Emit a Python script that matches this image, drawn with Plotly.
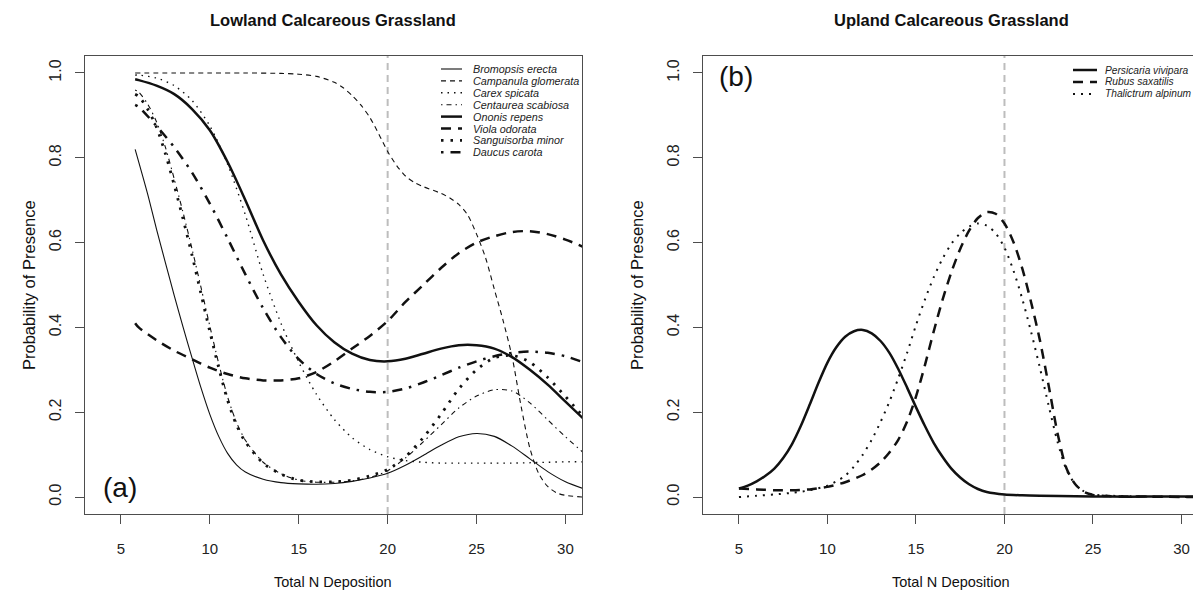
import plotly.graph_objects as go

W, H = 1193, 596
FONT = "Liberation Sans, Arial, Helvetica, sans-serif"
INK = "#111111"
AXIS = "#4d4d4d"

# ---- panel (a): lowland calcareous grassland ----
bromopsis_n = [5.8, 6.5, 7, 7.5, 8, 8.5, 9, 9.5, 10, 10.5, 11, 11.5, 12, 13, 14, 15, 16,
               17, 18, 19, 20, 21, 22, 23, 24, 25, 26, 27, 28, 29, 30, 31]
bromopsis_p = [0.82, 0.715, 0.632, 0.553, 0.475, 0.40, 0.328, 0.258, 0.195, 0.143, 0.103,
               0.076, 0.059, 0.042, 0.034, 0.031, 0.03, 0.032, 0.037, 0.045, 0.056, 0.075,
               0.098, 0.122, 0.142, 0.15, 0.143, 0.12, 0.09, 0.06, 0.036, 0.02]

campanula_n = [5.8, 8, 10, 12, 14, 15, 16, 17, 17.5, 18, 18.5, 19, 19.5, 20, 20.5, 21, 21.5,
               22, 23, 23.5, 24, 24.5, 25, 25.5, 26, 26.5, 27, 27.5, 28, 28.5, 29, 29.5, 30, 31]
campanula_p = [1.0, 1.0, 1.0, 1.0, 0.999, 0.997, 0.992, 0.978, 0.965, 0.947, 0.924, 0.895,
               0.856, 0.815, 0.782, 0.757, 0.742, 0.732, 0.716, 0.705, 0.69, 0.665, 0.62,
               0.565, 0.49, 0.415, 0.33, 0.215, 0.115, 0.055, 0.025, 0.01, 0.004, 0.0]

carex_n = [5.8, 6, 7, 8, 9, 10, 11, 12, 13, 14, 15, 16, 17, 18, 19, 20, 21, 22, 23, 24, 25,
           26, 27, 28, 29, 30, 31]
carex_p = [0.995, 0.995, 0.988, 0.97, 0.935, 0.875, 0.785, 0.665, 0.525, 0.41, 0.318, 0.242,
           0.183, 0.14, 0.112, 0.095, 0.086, 0.082, 0.08, 0.08, 0.08, 0.08, 0.08, 0.081,
           0.082, 0.083, 0.083]

centaurea_n = [5.8, 6, 6.5, 7, 7.5, 8, 8.5, 9, 9.5, 10, 10.5, 11, 11.5, 12, 13, 14, 15, 16,
               17, 18, 19, 20, 21, 22, 23, 24, 25, 26, 27, 28, 29, 30, 31]
centaurea_p = [0.96, 0.955, 0.927, 0.885, 0.825, 0.75, 0.67, 0.585, 0.495, 0.403, 0.315,
               0.236, 0.176, 0.134, 0.082, 0.055, 0.04, 0.035, 0.035, 0.038, 0.046, 0.062,
               0.092, 0.13, 0.17, 0.21, 0.238, 0.253, 0.25, 0.222, 0.182, 0.142, 0.105]

ononis_n = [5.8, 6, 7, 8, 9, 10, 11, 12, 13, 14, 15, 16, 17, 18, 19, 20, 21, 22, 23, 24, 25,
            26, 27, 28, 29, 30, 31]
ononis_p = [0.985, 0.983, 0.97, 0.95, 0.915, 0.865, 0.79, 0.70, 0.605, 0.525, 0.46, 0.405,
            0.365, 0.338, 0.323, 0.32, 0.326, 0.338, 0.35, 0.358, 0.358, 0.35, 0.33, 0.30,
            0.265, 0.225, 0.185]

viola_n = [5.8, 6, 7, 8, 9, 10, 11, 12, 13, 14, 15, 16, 17, 18, 19, 20, 21, 22, 23, 24, 25,
           26, 27, 28, 29, 30, 31]
viola_p = [0.41, 0.40, 0.37, 0.345, 0.325, 0.305, 0.29, 0.28, 0.275, 0.275, 0.28, 0.295,
           0.32, 0.35, 0.38, 0.415, 0.46, 0.50, 0.54, 0.575, 0.60, 0.615, 0.625, 0.627, 0.62,
           0.607, 0.59]

sanguisorba_n = [5.8, 6, 6.5, 7, 7.5, 8, 8.5, 9, 9.5, 10, 10.5, 11, 11.5, 12, 13, 14, 15, 16,
                 17, 18, 19, 20, 21, 22, 23, 24, 25, 26, 27, 28, 29, 30, 31]
sanguisorba_p = [0.95, 0.945, 0.915, 0.872, 0.81, 0.735, 0.655, 0.57, 0.48, 0.39, 0.305,
                 0.228, 0.17, 0.13, 0.08, 0.054, 0.04, 0.036, 0.036, 0.04, 0.05, 0.065, 0.095,
                 0.14, 0.195, 0.255, 0.30, 0.328, 0.334, 0.318, 0.282, 0.237, 0.19]

daucus_n = [5.8, 6, 7, 8, 9, 10, 11, 12, 13, 14, 15, 16, 17, 18, 19, 20, 21, 22, 23, 24, 25,
            26, 27, 28, 29, 30, 31]
daucus_p = [0.925, 0.92, 0.875, 0.825, 0.765, 0.692, 0.61, 0.525, 0.445, 0.377, 0.325, 0.29,
            0.268, 0.255, 0.248, 0.248, 0.256, 0.27, 0.287, 0.305, 0.32, 0.332, 0.34, 0.343,
            0.34, 0.332, 0.318]

# ---- panel (b): upland calcareous grassland ----
persicaria_n = [5, 5.5, 6, 6.5, 7, 7.5, 8, 8.5, 9, 9.5, 10, 10.5, 11, 11.5, 12, 12.5, 13,
                13.5, 14, 14.5, 15, 15.5, 16, 16.5, 17, 17.5, 18, 18.5, 19, 20, 21, 22, 24,
                26, 28, 31]
persicaria_p = [0.02, 0.027, 0.037, 0.05, 0.067, 0.092, 0.125, 0.168, 0.218, 0.27, 0.317,
                0.353, 0.378, 0.391, 0.394, 0.386, 0.368, 0.34, 0.302, 0.258, 0.212, 0.168,
                0.128, 0.095, 0.067, 0.046, 0.03, 0.019, 0.012, 0.006, 0.004, 0.003, 0.002,
                0.001, 0.001, 0.001]

rubus_n = [5, 6, 7, 8, 9, 10, 11, 12, 12.5, 13, 13.5, 14, 14.5, 15, 15.5, 16, 16.5, 17, 17.5,
           18, 18.5, 19, 19.5, 20, 20.5, 21, 21.5, 22, 22.5, 23, 23.5, 24, 24.5, 25, 26, 28, 31]
rubus_p = [0.02, 0.018, 0.016, 0.016, 0.018, 0.024, 0.035, 0.052, 0.065, 0.082, 0.105, 0.135,
           0.178, 0.237, 0.31, 0.39, 0.465, 0.53, 0.585, 0.628, 0.658, 0.672, 0.668, 0.645,
           0.602, 0.54, 0.46, 0.37, 0.262, 0.15, 0.068, 0.03, 0.012, 0.005, 0.002, 0.001, 0.0]

thalictrum_n = [5, 6, 7, 8, 9, 10, 10.5, 11, 11.5, 12, 12.5, 13, 13.5, 14, 14.5, 15, 15.5,
                16, 16.5, 17, 17.5, 18, 18.5, 19, 19.5, 20, 20.5, 21, 21.5, 22, 22.5, 23,
                23.5, 24, 24.5, 25, 26, 28, 31]
thalictrum_p = [0.0, 0.003, 0.006, 0.01, 0.016, 0.027, 0.037, 0.05, 0.072, 0.10, 0.135,
                0.177, 0.225, 0.28, 0.34, 0.405, 0.465, 0.518, 0.562, 0.597, 0.622, 0.638,
                0.645, 0.64, 0.622, 0.588, 0.535, 0.468, 0.39, 0.305, 0.215, 0.13, 0.065,
                0.03, 0.013, 0.006, 0.003, 0.001, 0.0]

THRESHOLD_N = 20
X_TICKS = [5, 10, 15, 20, 25, 30]
Y_TICKS = [0.0, 0.2, 0.4, 0.6, 0.8, 1.0]

# name, x, y, line width, dash
lowland = [
    ("Bromopsis erecta", bromopsis_n, bromopsis_p, 1.1, "solid"),
    ("Campanula glomerata", campanula_n, campanula_p, 1.1, "5px,4px"),
    ("Carex spicata", carex_n, carex_p, 1.4, "1.5px,5px"),
    ("Centaurea scabiosa", centaurea_n, centaurea_p, 1.1, "1.5px,4px,5px,4px"),
    ("Ononis repens", ononis_n, ononis_p, 2.5, "solid"),
    ("Viola odorata", viola_n, viola_p, 2.5, "10px,7px"),
    ("Sanguisorba minor", sanguisorba_n, sanguisorba_p, 2.8, "2.5px,7px"),
    ("Daucus carota", daucus_n, daucus_p, 2.5, "2.5px,7px,10px,7px"),
]
upland = [
    ("Persicaria vivipara", persicaria_n, persicaria_p, 2.5, "solid"),
    ("Rubus saxatilis", rubus_n, rubus_p, 2.5, "10px,7px"),
    ("Thalictrum alpinum", thalictrum_n, thalictrum_p, 2.0, "2px,6px"),
]


def fx(p):
    # window pixel -> paper fraction
    return p / W


def fy(p):
    return 1 - p / H


fig = go.Figure()

for name, xs, ys, w, dash in lowland:
    fig.add_trace(go.Scatter(x=xs, y=ys, mode="lines", name=name, xaxis="x", yaxis="y",
                             line=dict(color=INK, width=w, dash=dash, shape="spline", smoothing=0.8),
                             showlegend=False))
for name, xs, ys, w, dash in upland:
    fig.add_trace(go.Scatter(x=xs, y=ys, mode="lines", name=name, xaxis="x2", yaxis="y2",
                             line=dict(color=INK, width=w, dash=dash, shape="spline", smoothing=0.8),
                             showlegend=False))

# threshold line at 20 kg N
for xr, yr in (("x", "y"), ("x2", "y2")):
    fig.add_shape(type="line", xref=xr, yref=yr + " domain", x0=THRESHOLD_N, x1=THRESHOLD_N,
                  y0=0, y1=1, layer="below", line=dict(color="#bdbdbd", width=2, dash="7px,5px"))

x_common = dict(ticks="outside", ticklen=9, tickwidth=1, tickcolor=AXIS, showline=True,
                linecolor=AXIS, linewidth=1, showgrid=False, zeroline=False, tickvals=X_TICKS,
                mirror=True, ticklabelstandoff=12, ticklabeloverflow="allow",
                tickfont=dict(size=15, color="#222", family=FONT))
y_common = dict(ticks="outside", ticklen=9, tickwidth=1, tickcolor=AXIS, showline=True,
                linecolor=AXIS, linewidth=1, showgrid=False, zeroline=False, tickvals=Y_TICKS,
                tickformat=".1f", tickangle=-90, range=[-0.04, 1.04], ticklabelstandoff=8,
                domain=[fy(514), fy(56)], tickfont=dict(size=16, color="#222", family=FONT))
fig.update_layout(
    width=W, height=H,
    margin=dict(l=0, r=0, t=0, b=0),
    paper_bgcolor="white", plot_bgcolor="white",
    font=dict(family=FONT, color="#222"),
    hovermode=False,
    xaxis=dict(domain=[fx(85), fx(582)], range=[2.98, 30.93], anchor="y", **x_common),
    yaxis=dict(mirror=True, anchor="x", **y_common),
    xaxis2=dict(domain=[fx(703), 1.0], range=[2.97, 30.65], anchor="y2", **x_common),
    yaxis2=dict(mirror=False, anchor="x2", **y_common),
)

notes = [
    dict(text="<b>Lowland Calcareous Grassland</b>", x=fx(333), y=fy(20), size=16.5),
    dict(text="<b>Upland Calcareous Grassland</b>", x=fx(951), y=fy(20), size=16.5),
    dict(text="Total N Deposition", x=fx(333), y=fy(582), size=14.5),
    dict(text="Total N Deposition", x=fx(951), y=fy(582), size=14.5),
    dict(text="(a)", x=fx(120), y=fy(487), size=28),
    dict(text="(b)", x=fx(736), y=fy(77), size=28),
]
for n in notes:
    fig.add_annotation(text=n["text"], x=n["x"], y=n["y"], xref="paper", yref="paper",
                       showarrow=False, xanchor="center", yanchor="middle",
                       font=dict(size=n["size"], color="#111", family=FONT))
for xpos in (18, 637):
    fig.add_annotation(text="Probability of Presence", x=fx(xpos), y=fy(285), xref="paper",
                       yref="paper", showarrow=False, textangle=-90,
                       font=dict(size=16.5, color="#111", family=FONT))


def draw_key(entries, x0, x1, text_x, top, step, size):
    for i, (name, _, _, w, dash) in enumerate(entries):
        yy = fy(top + i * step)
        fig.add_shape(type="line", xref="paper", yref="paper", x0=fx(x0), x1=fx(x1), y0=yy, y1=yy,
                      line=dict(color=INK, width=w, dash=dash))
        fig.add_annotation(text="<i>" + name + "</i>", x=fx(text_x), y=yy, xref="paper",
                           yref="paper", showarrow=False, xanchor="left", yanchor="middle",
                           font=dict(size=size, color="#222", family=FONT))


draw_key(lowland, 441, 462, 471, 69, 11.9, 10.8)
draw_key(upland, 1073, 1097, 1103, 70, 12, 10.2)

# drop the default page margin so the figure fills the window exactly
fig.write_html("out.html", config={"displayModeBar": False},
               post_script="document.body.style.margin='0';"
                           "document.body.style.overflow='hidden';")
